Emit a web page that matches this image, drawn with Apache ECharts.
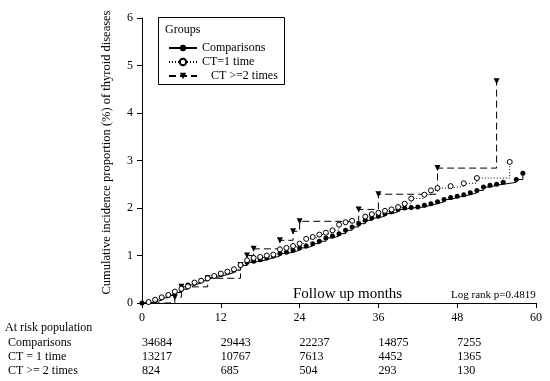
<!DOCTYPE html>
<html><head><meta charset="utf-8">
<script src="https://cdn.jsdelivr.net/npm/echarts@6/dist/echarts.min.js"></script>
<style>html,body{margin:0;padding:0;background:#fff}#c{width:550px;height:381px}</style>
</head><body><div id="c"></div>
<script>
// ---- data ----
const seriesNames = ['Comparisons', 'CT=1 time', 'CT >=2 times'];
const compMonths = [0,1,2,3,4,5,6,7,8,9,10,11,12,13,14,15,16,17,18,19,20,21,22,23,24,25,26,27,28,29,30,31,32,33,34,35,36,37,38,39,40,41,42,43,44,45,46,47,48,49,50,51,52,53,54,55,57,58];
const compValues = [0,0.02,0.06,0.11,0.16,0.22,0.29,0.38,0.42,0.47,0.53,0.56,0.60,0.64,0.69,0.79,0.86,0.88,0.91,0.95,0.99,1.04,1.07,1.11,1.16,1.20,1.25,1.30,1.37,1.41,1.46,1.53,1.60,1.67,1.74,1.79,1.83,1.88,1.92,1.97,2.00,2.01,2.02,2.06,2.09,2.13,2.18,2.22,2.25,2.28,2.32,2.37,2.44,2.48,2.50,2.54,2.60,2.73];
const ct1Months = [0,1,2,3,4,5,6,7,8,9,10,11,12,13,14,15,16,17,18,19,20,21,22,23,24,25,26,27,28,29,30,31,32,34,35,36,37,38,39,40,41,43,44,45,47,49,51,56];
const ct1Values = [0,0.02,0.07,0.12,0.17,0.24,0.30,0.35,0.43,0.47,0.52,0.57,0.62,0.66,0.71,0.80,0.90,0.95,0.97,1.00,1.02,1.13,1.16,1.20,1.25,1.35,1.39,1.44,1.48,1.53,1.65,1.70,1.73,1.82,1.87,1.90,1.94,1.97,2.02,2.09,2.20,2.28,2.37,2.42,2.46,2.52,2.63,2.97];
const ct2Months = [0,5,6,10,15,16,17,21,23,24,33,36,45,54];
const ct2Values = [0,0.12,0.34,0.52,0.80,1.00,1.14,1.32,1.51,1.72,1.97,2.29,2.84,4.67];
const xTicks = [0,12,24,36,48,60];
const riskMonths = [0,12,24,36,48];
const riskComparisons = [34684,29443,22237,14875,7255];
const riskCT1 = [13217,10767,7613,4452,1365];
const riskCT2 = [824,685,504,293,130];
const riskRowLabels = [' Comparisons', ' CT = 1 time', ' CT >= 2 times'];

const FONT = '"Liberation Serif", "Times New Roman", serif';
const chart = echarts.init(document.getElementById('c'), null, {renderer: 'canvas'});

function pairs(ms, vs, noFirstSymbol) {
  return ms.map((m, i) => (i === 0 && noFirstSymbol) ? {value: [m, vs[i]], symbol: 'none'} : [m, vs[i]]);
}

const option = {
  animation: false,
  backgroundColor: '#fff',
  grid: {left: 142, right: 14, top: 18, bottom: 78, containLabel: false, outerBoundsMode: 'none'},
  xAxis: {
    type: 'value', min: 0, max: 60, interval: 12,
    axisLine: {show: true, lineStyle: {color: '#000', width: 1}},
    axisTick: {show: true, length: 5, lineStyle: {color: '#000'}},
    axisLabel: {color: '#000', fontFamily: FONT, fontSize: 12, margin: 9},
    splitLine: {show: false}
  },
  yAxis: {
    type: 'value', min: 0, max: 6, interval: 1,
    name: 'Cumulative incidence proportion (%) of thyroid diseases',
    nameLocation: 'middle', nameGap: 29,
    nameTextStyle: {color: '#000', fontFamily: FONT, fontSize: 12.5, padding: [0, 0, 0, 16]},
    axisLine: {show: true, lineStyle: {color: '#000', width: 1}},
    axisTick: {show: true, length: 5, lineStyle: {color: '#000'}},
    axisLabel: {color: '#000', fontFamily: FONT, fontSize: 12, margin: 9},
    splitLine: {show: false}
  },
  legend: {
    orient: 'vertical', left: 163, top: 37,
    itemWidth: 28, itemHeight: 8, itemGap: 2,
    data: seriesNames,
    textStyle: {color: '#000', fontFamily: FONT, fontSize: 12},
    formatter: function (n) { return n === 'CT >=2 times' ? '   ' + n : n; }
  },
  series: [
    {
      name: seriesNames[2], type: 'line', step: 'end',
      data: pairs(ct2Months, ct2Values, true),
      symbol: 'triangle', symbolRotate: 180, symbolSize: 6,
      itemStyle: {color: '#000'},
      lineStyle: {color: '#000', width: 1, type: [7, 4]},
      z: 2
    },
    {
      name: seriesNames[0], type: 'line', step: 'end',
      data: pairs(compMonths, compValues, false),
      symbol: 'circle', symbolSize: 5,
      itemStyle: {color: '#000'},
      lineStyle: {color: '#000', width: 1, type: 'solid'},
      z: 3
    },
    {
      name: seriesNames[1], type: 'line', step: 'end',
      data: pairs(ct1Months, ct1Values, true),
      symbol: 'circle', symbolSize: 5,
      itemStyle: {color: '#fff', borderColor: '#000', borderWidth: 1},
      lineStyle: {color: '#000', width: 1, type: [1, 2]},
      z: 4
    }
  ]
};
chart.setOption(option);

// graphics: legend box, axis caption, at-risk table
const g = [
  {type: 'rect', shape: {x: 158.5, y: 17.5, width: 126, height: 67}, style: {fill: 'none', stroke: '#000', lineWidth: 1}, z: 0},
  {type: 'text', left: 165, top: 24, style: {text: 'Groups', font: '12px ' + FONT, fill: '#000'}},
  {type: 'text', left: 293, top: 287, style: {text: 'Follow up months', font: '15px ' + FONT, fill: '#000'}},
  {type: 'text', left: 451, top: 290, style: {text: 'Log rank p=0.4819', font: '11px ' + FONT, fill: '#000'}},
  {type: 'text', left: 5, top: 322, style: {text: 'At risk population', font: '12px ' + FONT, fill: '#000'}}
];
const rows = [riskComparisons, riskCT1, riskCT2];
const rowTop = [337, 351, 365];
rows.forEach((arr, r) => {
  g.push({type: 'text', left: 5, top: rowTop[r], style: {text: riskRowLabels[r], font: '12px ' + FONT, fill: '#000'}});
  arr.forEach((v, i) => {
    const px = chart.convertToPixel({xAxisIndex: 0}, riskMonths[i]);
    g.push({type: 'text', left: px, top: rowTop[r], style: {text: String(v), font: '12px ' + FONT, fill: '#000'}});
  });
});
chart.setOption({graphic: g});
</script>
</body></html>
